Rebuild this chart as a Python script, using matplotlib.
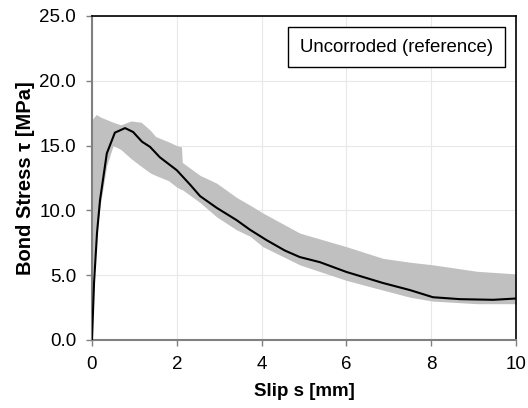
"""
Bond stress vs slip, uncorroded reference specimen: mean curve with scatter band
"""

import matplotlib
matplotlib.use("Agg")
import matplotlib.pyplot as plt

plt.rcParams['font.family'] = ['Liberation Sans', 'DejaVu Sans']

# mean curve
slip = [0, 0.05, 0.12, 0.19, 0.35, 0.54, 0.78, 0.97, 1.18, 1.37, 1.6, 2.0, 2.31, 2.55,
        2.94, 3.41, 3.73, 4.12, 4.55, 4.9, 5.38, 6.0, 6.86, 7.5, 8.04, 8.68, 9.46, 10]
tau_mean = [0, 4.5, 8.3, 10.8, 14.4, 16.0, 16.35, 16.05, 15.3, 14.9, 14.1, 13.1, 12.0, 11.1,
            10.2, 9.25, 8.5, 7.7, 6.9, 6.4, 6.0, 5.25, 4.4, 3.85, 3.3, 3.15, 3.1, 3.2]

# scatter band (min / max of the tests)
band_slip = [0, 0.1, 0.2, 0.35, 0.5, 0.68, 0.92, 1.16, 1.37, 1.5, 1.8, 2.0, 2.11, 2.13,
             2.55, 2.94, 3.41, 3.73, 4.03, 4.9, 6.0, 6.86, 7.5, 8.04, 9.08, 10]
band_hi = [17.0, 17.4, 17.2, 17.0, 16.8, 16.6, 16.9, 16.8, 16.2, 15.7, 15.3, 15.0, 14.9, 13.7,
           12.7, 12.1, 11.0, 10.4, 9.8, 8.25, 7.2, 6.3, 6.0, 5.8, 5.3, 5.1]
band_lo = [4.4, 8.0, 10.5, 13.5, 15.0, 14.7, 14.0, 13.4, 12.9, 12.7, 12.3, 11.8, 11.6, 11.6,
           10.6, 9.5, 8.5, 8.0, 7.2, 5.8, 4.6, 3.85, 3.3, 3.0, 2.8, 2.8]

x_ticks = [0, 2, 4, 6, 8, 10]
y_ticks = [0, 5, 10, 15, 20, 25]

fig = plt.figure(figsize=(5.28, 4.08), dpi=100)
ax = fig.add_axes([0.1742, 0.1667, 0.8031, 0.7941])

ax.fill_between(band_slip, band_lo, band_hi, color='#c0c0c0', linewidth=0, zorder=2)
ax.plot(slip, tau_mean, color='black', linewidth=1.5, zorder=3)

ax.set_xlim(0, 10)
ax.set_ylim(0, 25)
ax.set_xticks(x_ticks)
ax.set_yticks(y_ticks)
ax.set_yticklabels([f"{v:.1f}" for v in y_ticks])
ax.grid(color='#e8e8e8', linewidth=0.8)
ax.set_axisbelow(True)

for side in ['left', 'bottom']:
    ax.spines[side].set_color('#808080')
    ax.spines[side].set_linewidth(1.5)
for side in ['top', 'right']:
    ax.spines[side].set_color('black')
    ax.spines[side].set_linewidth(1.2)
ax.tick_params(colors='#808080', labelcolor='black', labelsize=13.5, length=4, width=1, pad=7.5)

ax.set_xlabel('Slip s [mm]', fontsize=13.5, fontweight='bold', labelpad=7)
ax.set_ylabel('Bond Stress τ [MPa]', fontsize=14.5, fontweight='bold', labelpad=3)

ax.text(0.718, 0.904, 'Uncorroded (reference)', transform=ax.transAxes, fontsize=13.4,
        ha='center', va='center', zorder=5,
        bbox=dict(boxstyle='square,pad=0.62', facecolor='white', edgecolor='black', linewidth=1))

fig.savefig('out.png', dpi=100)
